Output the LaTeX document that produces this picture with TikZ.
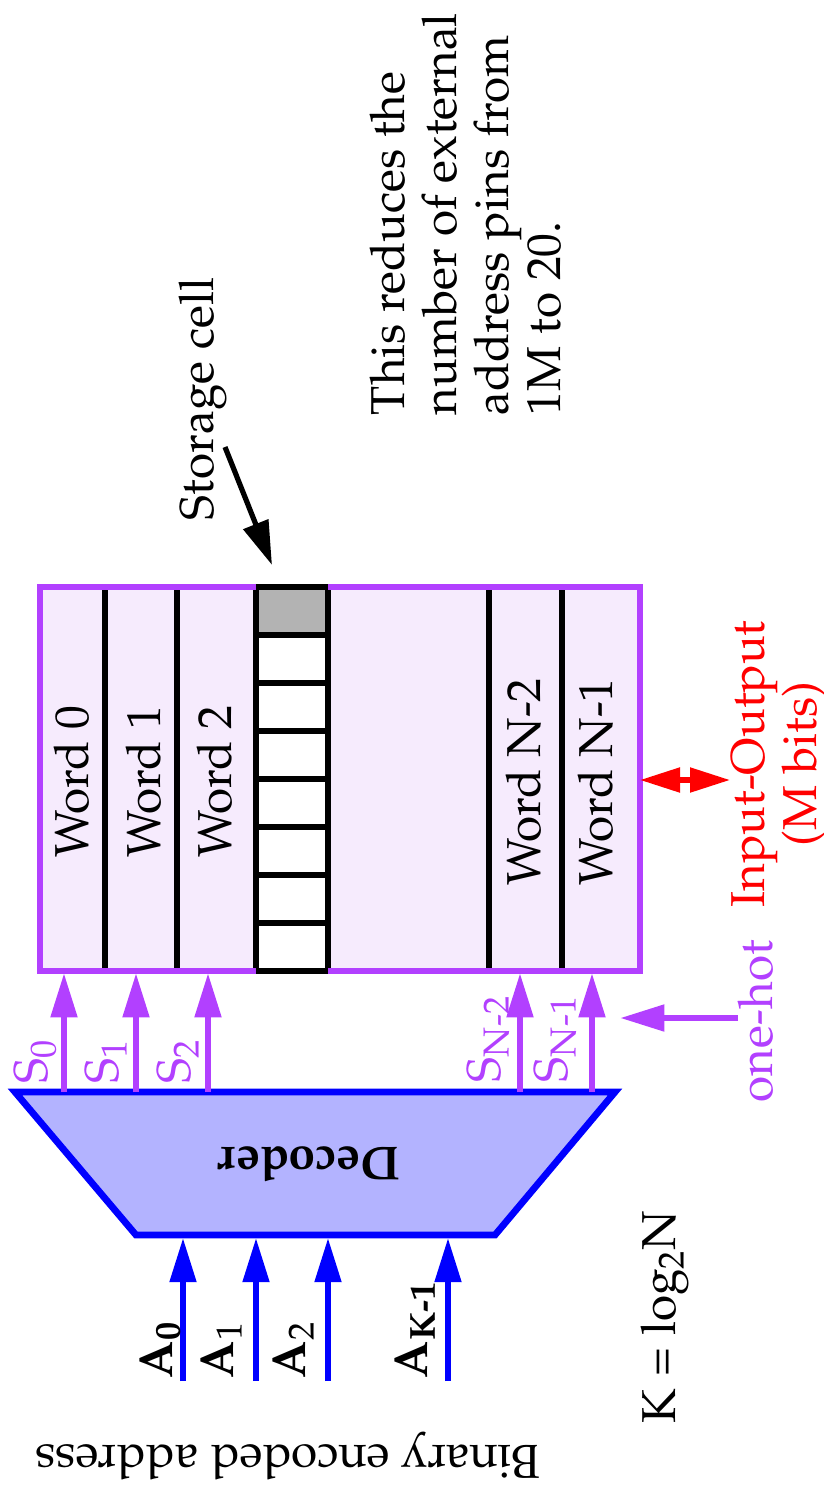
\documentclass[tikz,border=0pt]{standalone}
\usepackage[T1]{fontenc}
\usepackage{mathpazo}
\usetikzlibrary{arrows.meta}
\definecolor{vio}{RGB}{178,64,255}
\definecolor{memfill}{RGB}{246,235,253}
\definecolor{decfill}{RGB}{179,179,255}
\definecolor{cellgrey}{RGB}{179,179,179}
\definecolor{pureblue}{RGB}{0,0,255}
\definecolor{purered}{RGB}{255,0,0}
\tikzset{
  memstyle/.style={draw=vio, fill=memfill, line width=2.8pt, inner sep=0pt, outer sep=0pt},
  wordline/.style={draw=black, line width=2.8pt},
  cellbox/.style={draw=black, line width=3pt, fill=white},
  decstyle/.style={draw=pureblue, fill=decfill, line width=3.4pt, line join=miter},
  bigtip/.style={-{Triangle[length=22pt,width=13pt]}},
  sarr/.style={draw=vio, line width=2.6pt, bigtip, shorten >=1.2pt},
  aarr/.style={draw=pureblue, line width=2.6pt, bigtip, shorten >=1.6pt},
  karr/.style={draw=black, line width=2.6pt, bigtip},
  ioarr/.style={draw=purered, line width=2.6pt, {Triangle[length=20pt,width=12pt]}-{Triangle[length=20pt,width=12pt]}},
  txt/.style={font=\fontsize{23.8}{26}\selectfont, inner sep=0pt, outer sep=0pt},
  vtxt/.style={txt, rotate=90},
  utxt/.style={txt, rotate=180},
}
\begin{document}
\begin{tikzpicture}[x=0.5pt, y=-0.5pt]
\useasboundingbox (0,0) rectangle (824,1489);

% memory array
\node[memstyle, minimum width=300pt, minimum height=192pt, anchor=north west] (mem) at (40,587) {};
\draw[wordline] (105,587) -- (105,971);
\draw[wordline] (177,587) -- (177,971);
\draw[wordline] (489,587) -- (489,971);
\draw[wordline] (562,587) -- (562,971);
\draw[cellbox, fill=cellgrey] (256,587) rectangle (328,635);
\foreach \i in {1,...,7} {
  \draw[cellbox] (256,{587+48*\i}) rectangle (328,{635+48*\i});
}
\draw[draw=vio, line width=2.8pt] (mem.north west) -- (mem.south west) -- (256,971);
\draw[draw=vio, line width=2.8pt] (328,971) -- (mem.south east) -- (mem.north east) -- (328,587);
\draw[draw=vio, line width=2.8pt] (256,587) -- (mem.north west);

\node[vtxt, anchor=base] (w0) at (88,782) {Word 0};
\node[vtxt, anchor=base] (w1) at (160,782) {Word 1};
\node[vtxt, anchor=base] (w2) at (231,782) {Word 2};
\node[vtxt, anchor=base] (wn2) at (540,782) {Word N-2};
\node[vtxt, anchor=base] (wn1) at (612,782) {Word N-1};

% storage cell annotation
\node[vtxt, anchor=base west] (sclabel) at (213,520) {Storage cell};
\coordinate (scfrom) at (225,447);
\coordinate (scto) at (272,565);
\draw[karr] (scfrom) -- (scto);

\node[vtxt, anchor=north west, align=left] (note) at (370,415)
  {This reduces the\\number of external\\address pins from\\1M to 20.};

% decoder
\draw[decstyle] (15,1092) -- (615,1092) -- (495,1235) -- (136,1235) -- cycle;
\node[utxt, anchor=base, font=\fontsize{23.8}{26}\selectfont\bfseries] (dec) at (309,1147) {Decoder};
\coordinate (dectop) at (315,1092);
\coordinate (decbot) at (315,1235);

% select lines
\foreach \n/\x in {s0/64, s1/136, s2/208, sn2/520, sn1/592} {
  \coordinate (\n) at (\x,1092);
  \draw[sarr] (\n) -- (\n |- mem.south);
}
\node[vtxt, anchor=base west, text=vio] (ls0) at (47,1083) {S\textsubscript{0}};
\node[vtxt, anchor=base west, text=vio] (ls1) at (118,1083) {S\textsubscript{1}};
\node[vtxt, anchor=base west, text=vio] (ls2) at (190,1083) {S\textsubscript{2}};
\node[vtxt, anchor=base west, text=vio] (lsn2) at (500,1082) {S\textsubscript{N-2}};
\node[vtxt, anchor=base west, text=vio] (lsn1) at (567,1082) {S\textsubscript{N-1}};

% one-hot
\coordinate (ohfrom) at (738,1018);
\coordinate (ohto) at (618,1018);
\draw[sarr] (ohfrom) -- (ohto);
\node[vtxt, anchor=base west, text=vio] (oh) at (772,1102) {one-hot};

% input-output
\coordinate (io) at (730,780);
\draw[ioarr] (io -| mem.east) -- (io);
\node[vtxt, anchor=north, align=center, text=purered] (iolabel) at (732,764) {Input-Output\\(M bits)};

% address lines
\foreach \n/\x in {a0/183, a1/256, a2/328, ak/448} {
  \coordinate (\n) at (\x,1381);
  \draw[aarr] (\n) -- (\n |- decbot);
}
\node[vtxt, anchor=base west] (la0) at (172,1378) {\textbf{A}\textsubscript{\textbf{0}}};
\node[vtxt, anchor=base west] (la1) at (233,1378) {\textbf{A}\textsubscript{1}};
\node[vtxt, anchor=base west] (la2) at (305,1378) {\textbf{A}\textsubscript{2}};
\node[vtxt, anchor=base west] (lak) at (427,1378) {\textbf{A}\textsubscript{\textbf{K-1}}};

\node[vtxt, anchor=base west] (klog) at (675,1423) {K = log\textsubscript{2}N};
\node[utxt, anchor=base] (bin) at (288,1445) {Binary encoded address};
\end{tikzpicture}
\end{document}
